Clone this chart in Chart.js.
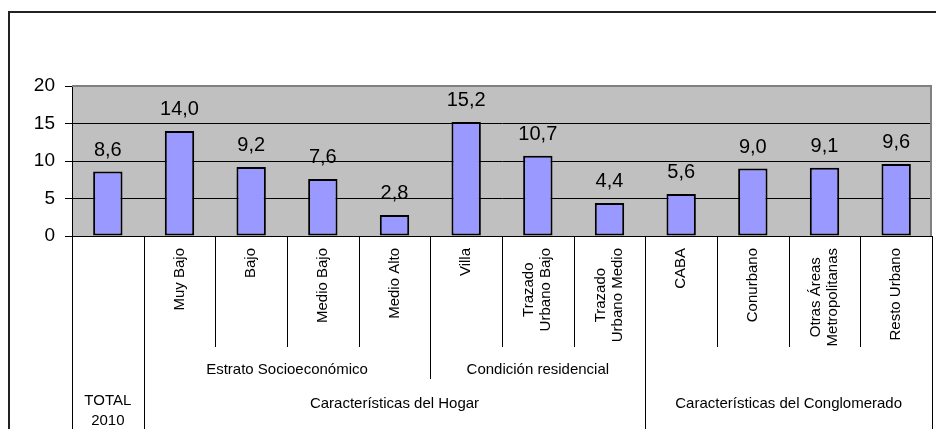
<!DOCTYPE html>
<html lang="es">
<head>
    <meta charset="UTF-8">
    <title>Características del Hogar y del Conglomerado</title>
    <style>
        body {
            margin: 0;
            background: #fff;
        }
        #wrap {
            width: 937px;
            height: 429px;
        }
    </style>
</head>
<body>
    <div id="wrap"><canvas id="chart"></canvas></div>

    <script src="https://cdn.jsdelivr.net/npm/chart.js"></script>
    <script>
        // data
        const categories = ['', 'Muy Bajo', 'Bajo', 'Medio Bajo', 'Medio Alto', 'Villa',
            ['Trazado', 'Urbano Bajo'], ['Trazado', 'Urbano Medio'], 'CABA', 'Conurbano',
            ['Otras Áreas', 'Metropolitanas'], 'Resto Urbano'];
        const values = [8.6, 14.0, 9.2, 7.6, 2.8, 15.2, 10.7, 4.4, 5.6, 9.0, 9.1, 9.6];
        const yTicks = [0, 5, 10, 15, 20];
        const midGroups = [
            { label: 'Estrato Socioeconómico', from: 1, to: 4 },
            { label: 'Condición residencial', from: 5, to: 7 }
        ];
        const topGroups = [
            { label: ['TOTAL', '2010'], from: 0, to: 0 },
            { label: 'Características del Hogar', from: 1, to: 7 },
            { label: 'Características del Conglomerado', from: 8, to: 11 }
        ];

        const FONT = '"Liberation Sans", Arial, sans-serif';

        function groupOf(groups, i) {
            return groups.findIndex(g => i >= g.from && i <= g.to);
        }

        const decor = {
            id: 'decor',
            beforeDraw(chart) {
                const { ctx, chartArea: a } = chart;
                ctx.save();
                ctx.fillStyle = '#fff';
                ctx.fillRect(0, 0, chart.width, chart.height);
                ctx.fillStyle = '#C0C0C0';
                ctx.fillRect(a.left, a.top, a.right - a.left, a.bottom - a.top);
                ctx.restore();
            },
            afterDatasetsDraw(chart) {
                const { ctx, chartArea: a } = chart;
                ctx.save();
                // plot frame (top & right)
                ctx.strokeStyle = '#808080';
                ctx.lineWidth = 2;
                ctx.beginPath();
                ctx.moveTo(a.left, a.top);
                ctx.lineTo(a.right - 1, a.top);
                ctx.lineTo(a.right - 1, a.bottom);
                ctx.stroke();

                // value labels
                ctx.fillStyle = '#000';
                ctx.font = '20px ' + FONT;
                ctx.textAlign = 'center';
                ctx.textBaseline = 'alphabetic';
                chart.getDatasetMeta(0).data.forEach((bar, i) => {
                    ctx.fillText(values[i].toFixed(1).replace('.', ','), bar.x, bar.y - 16);
                });
                ctx.restore();
            },
            afterDraw(chart) {
                const { ctx, chartArea: a } = chart;
                const x = chart.scales.x;
                const half = (x.getPixelForValue(1) - x.getPixelForValue(0)) / 2;
                const b = a.bottom;
                const lvl1 = b + 111, lvl2 = b + 143, end = chart.height;
                ctx.save();
                ctx.strokeStyle = '#000';
                ctx.lineWidth = 1;

                // separators between categories
                for (let i = -1; i < categories.length; i++) {
                    const px = Math.round(i < 0 ? x.getPixelForValue(0) - half : x.getPixelForValue(i) + half) + 0.5;
                    let y2 = lvl1;
                    if (i < 0 || i === categories.length - 1 || groupOf(topGroups, i) !== groupOf(topGroups, i + 1)) {
                        y2 = end;
                    } else if (groupOf(midGroups, i) !== groupOf(midGroups, i + 1)) {
                        y2 = lvl2;
                    }
                    ctx.beginPath();
                    ctx.moveTo(px, b);
                    ctx.lineTo(px, y2);
                    ctx.stroke();
                }

                ctx.fillStyle = '#000';
                ctx.font = '15px ' + FONT;

                // rotated category labels
                categories.forEach((c, i) => {
                    if (!c) return;
                    const lines = Array.isArray(c) ? c : [c];
                    const maxLen = Math.max(...lines.map(l => ctx.measureText(l).width));
                    const cx = x.getPixelForValue(i);
                    const cy = b + 12 + maxLen / 2;
                    const lh = 17;
                    ctx.save();
                    ctx.translate(cx, cy);
                    ctx.rotate(-Math.PI / 2);
                    ctx.textAlign = 'center';
                    ctx.textBaseline = 'middle';
                    lines.forEach((l, k) => {
                        ctx.fillText(l, 0, (k - (lines.length - 1) / 2) * lh);
                    });
                    ctx.restore();
                });

                ctx.textAlign = 'center';
                ctx.textBaseline = 'alphabetic';
                const spanCenter = g => (x.getPixelForValue(g.from) + x.getPixelForValue(g.to)) / 2;

                midGroups.forEach(g => {
                    ctx.fillText(g.label, spanCenter(g), b + 138);
                });
                topGroups.forEach(g => {
                    if (Array.isArray(g.label)) {
                        g.label.forEach((l, k) => ctx.fillText(l, spanCenter(g), b + 169 + k * 20));
                    } else {
                        ctx.fillText(g.label, spanCenter(g), b + 172);
                    }
                });

                // outer frame
                ctx.strokeStyle = '#222';
                ctx.lineWidth = 2;
                ctx.beginPath();
                ctx.moveTo(9, chart.height);
                ctx.lineTo(9, 12);
                ctx.lineTo(936, 12);
                ctx.stroke();
                ctx.restore();
            }
        };

        const ctx = document.getElementById('chart').getContext('2d');
        new Chart(ctx, {
            type: 'bar',
            data: {
                labels: categories,
                datasets: [{
                    data: values,
                    backgroundColor: '#9999FF',
                    borderColor: '#000',
                    borderWidth: 2,
                    borderSkipped: false,
                    categoryPercentage: 1,
                    barPercentage: 0.41
                }]
            },
            options: {
                responsive: true,
                maintainAspectRatio: false,
                animation: false,
                layout: { padding: { left: 0, top: 86, right: 5, bottom: 193 } },
                plugins: {
                    legend: { display: false },
                    tooltip: { enabled: false }
                },
                scales: {
                    x: { display: false },
                    y: {
                        min: 0,
                        max: 20,
                        afterBuildTicks: s => { s.ticks = yTicks.map(v => ({ value: v })); },
                        afterFit: s => { s.width = 72; },
                        ticks: {
                            color: '#000',
                            padding: 10,
                            font: { family: FONT, size: 19 }
                        },
                        grid: { color: '#000', lineWidth: 1, tickLength: 7 },
                        border: { display: true, color: '#000', width: 1 }
                    }
                }
            },
            plugins: [decor]
        });
    </script>
</body>
</html>
